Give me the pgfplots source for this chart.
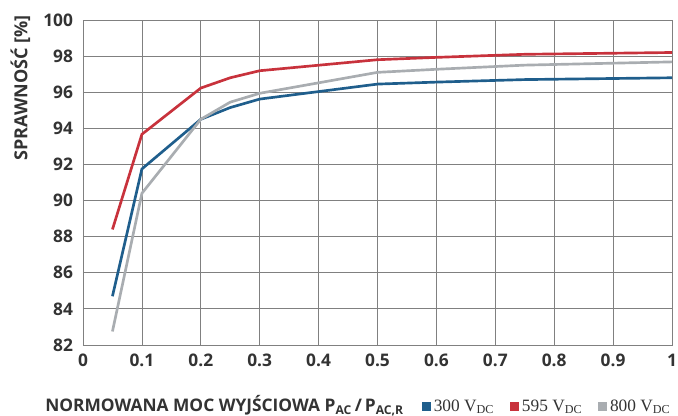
\documentclass[border=0pt]{standalone}
\usepackage{pgfplots}
\pgfplotsset{compat=1.18}
\usepackage{fontspec}
\setmainfont{Open Sans}
\newfontfamily\seriffont{Liberation Serif}
\definecolor{cblue}{HTML}{1F5E8C}
\definecolor{cred}{HTML}{C8323C}
\definecolor{cgray}{HTML}{A9ADB1}
\definecolor{ctext}{HTML}{333333}
\begin{document}
\begin{tikzpicture}
\begin{axis}[
  scale only axis,
  width=441.75pt, height=243.75pt,
  xmin=0, xmax=1, ymin=82, ymax=100,
  xtick={0,0.1,0.2,0.3,0.4,0.5,0.6,0.7,0.8,0.9,1}, ytick={82,84,...,100},
  xticklabels={0,0.1,0.2,0.3,0.4,0.5,0.6,0.7,0.8,0.9,1},
  /pgf/number format/assume math mode=true,
  ticklabel style={font=\bfseries\fontsize{13}{14}\selectfont, color=ctext},
  xticklabel style={yshift=-3pt},
  yticklabel style={xshift=-4pt},
  major tick length=0pt,
  axis line style={black!50, line width=0.6pt},
  xmajorgrids=true, ymajorgrids=true,
  major grid style={black!50, line width=0.6pt},
  clip=false,
  legend columns=3,
  legend style={at={(1,0)}, anchor=east, yshift=-46pt, xshift=4pt, draw=none, fill=none,
    font=\seriffont\fontsize{13}{14}\selectfont, text=ctext,
    /tikz/every even column/.append style={column sep=10pt}},
  legend image code/.code={\fill[#1, draw=none] (0pt,-3.4pt) rectangle (6.8pt,3.4pt);},
]
\addplot[cblue, line width=2pt] coordinates {(0.05,84.7)(0.1,91.75)(0.2,94.5)(0.25,95.15)(0.3,95.62)(0.5,96.45)(0.6,96.56)(0.75,96.7)(1,96.8)};
\addlegendentry{300 V\textsubscript{DC}}
\addplot[cred, line width=2pt] coordinates {(0.05,88.4)(0.1,93.67)(0.2,96.23)(0.25,96.8)(0.3,97.19)(0.5,97.8)(0.6,97.93)(0.75,98.1)(1,98.2)};
\addlegendentry{595 V\textsubscript{DC}}
\addplot[cgray, line width=2pt] coordinates {(0.05,82.75)(0.1,90.4)(0.2,94.5)(0.25,95.45)(0.3,95.94)(0.5,97.1)(0.6,97.27)(0.75,97.5)(1,97.68)};
\addlegendentry{800 V\textsubscript{DC}}
\node[rotate=90, anchor=east, font=\bfseries\fontsize{13.5}{14}\selectfont, text=ctext, inner sep=0pt]
  at ([xshift=-47pt, yshift=3.75pt]{axis description cs:0,1}) {SPRAWNOŚĆ [\%]};
\node[anchor=west, font=\bfseries\fontsize{13}{14}\selectfont, text=ctext, inner sep=0pt]
  at ([xshift=-28.5pt, yshift=-45.5pt]{axis description cs:0,0}) {NORMOWANA MOC WYJŚCIOWA P\textsubscript{AC}\,/\,P\textsubscript{AC,R}};
\end{axis}
\pgfresetboundingbox
\path[use as bounding box] ([xshift=-62.25pt, yshift=-53.25pt]current axis.south west) rectangle ([xshift=4.5pt, yshift=15pt]current axis.north east);
\end{tikzpicture}
\end{document}
